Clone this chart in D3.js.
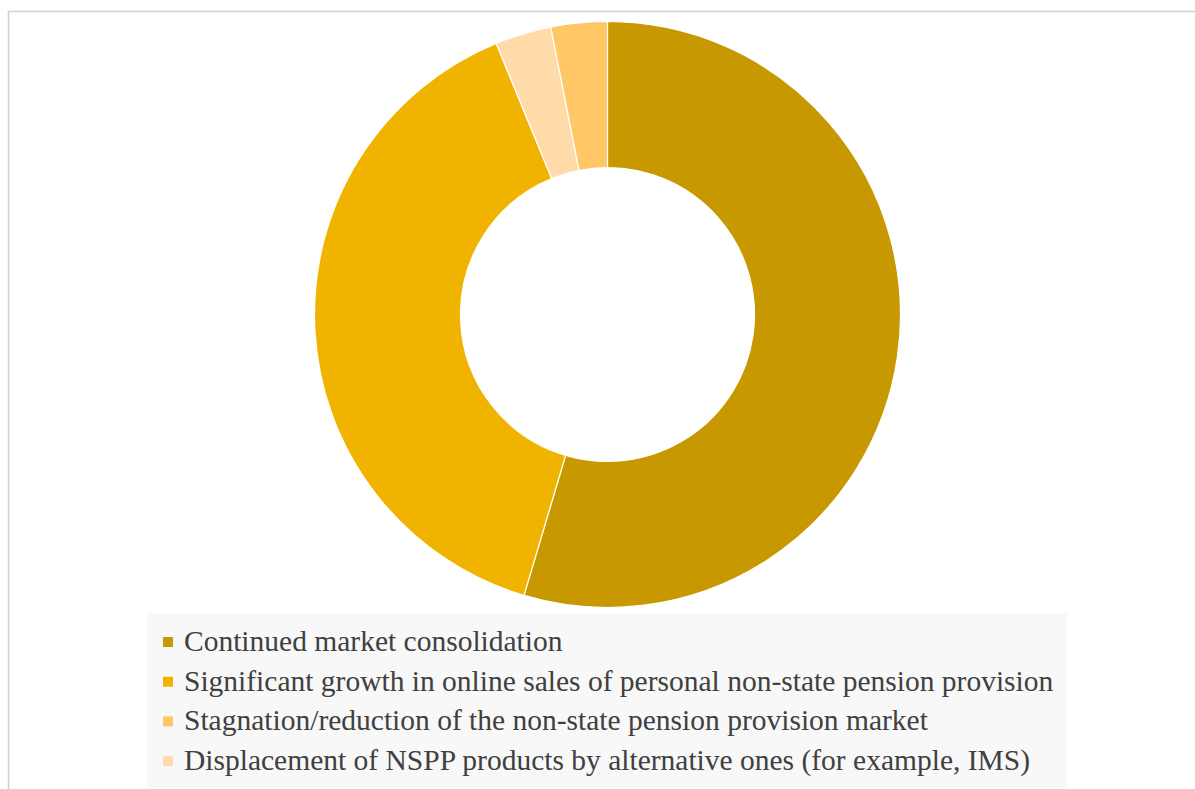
<!DOCTYPE html>
<meta charset="utf-8" />
<html>
  <style>
    body { margin: 0; background: #fff; }
    .legend text {
      font-family: "Liberation Serif", "Times New Roman", serif;
      font-size: 29.5px;
      fill: #404040;
    }
  </style>
  <body>
    <svg width="1195" height="789"></svg>
    <script src="https://cdn.jsdelivr.net/npm/d3@7"></script>
    <script>
      // legend order (as listed under the chart)
      var categories = [
        "Continued market consolidation",
        "Significant growth in online sales of personal non-state pension provision",
        "Stagnation/reduction of the non-state pension provision market",
        "Displacement of NSPP products by alternative ones (for example, IMS)"
      ];
      var shares = [54.6, 39.2, 3.1, 3.1];
      var colors = ["#C89800", "#F0B400", "#FFC766", "#FFDBAA"];
      // slices go clockwise from 12 o'clock in this order
      var sliceOrder = [0, 1, 3, 2];

      var svg = d3.select("svg"),
        width = +svg.attr("width"),
        height = +svg.attr("height");

      // chart frame (only top/left edges visible in the crop)
      svg.append("rect")
        .attr("x", 8.5)
        .attr("y", 11.5)
        .attr("width", width)
        .attr("height", height)
        .attr("fill", "#fff")
        .attr("stroke", "#D0D0D0")
        .attr("stroke-width", 1.5);

      var cx = 607.5, cy = 314.5, outerR = 293, innerR = 147;

      var color = d3.scaleOrdinal().domain(categories).range(colors);

      var pie = d3.pie()
        .sort(null)
        .value(function (d) { return d.value; });

      var arc = d3.arc().innerRadius(innerR).outerRadius(outerR);

      var sliceData = sliceOrder.map(function (i) {
        return { name: categories[i], value: shares[i] };
      });

      svg.append("g")
        .attr("class", "donut")
        .attr("transform", "translate(" + cx + "," + cy + ")")
        .selectAll("path")
        .data(pie(sliceData))
        .enter()
        .append("path")
        .attr("d", arc)
        .attr("fill", function (d) { return color(d.data.name); })
        .attr("stroke", "#fff")
        .attr("stroke-width", 1.2);

      // Legend box
      var legend = svg.append("g").attr("class", "legend");

      legend.append("rect")
        .attr("x", 147)
        .attr("y", 613)
        .attr("width", 920)
        .attr("height", 174)
        .attr("fill", "#F8F8F8");

      var rowY = d3.scalePoint()
        .domain(categories)
        .range([651, 770]);

      var rows = legend.selectAll(".row")
        .data(categories)
        .enter()
        .append("g")
        .attr("class", "row")
        .attr("transform", function (d) { return "translate(0," + rowY(d) + ")"; });

      rows.append("rect")
        .attr("x", 163)
        .attr("y", -14)
        .attr("width", 10)
        .attr("height", 10)
        .attr("fill", function (d) { return color(d); });

      rows.append("text")
        .attr("x", 184)
        .attr("y", 0)
        .text(function (d) { return d; });
    </script>
  </body>
</html>
